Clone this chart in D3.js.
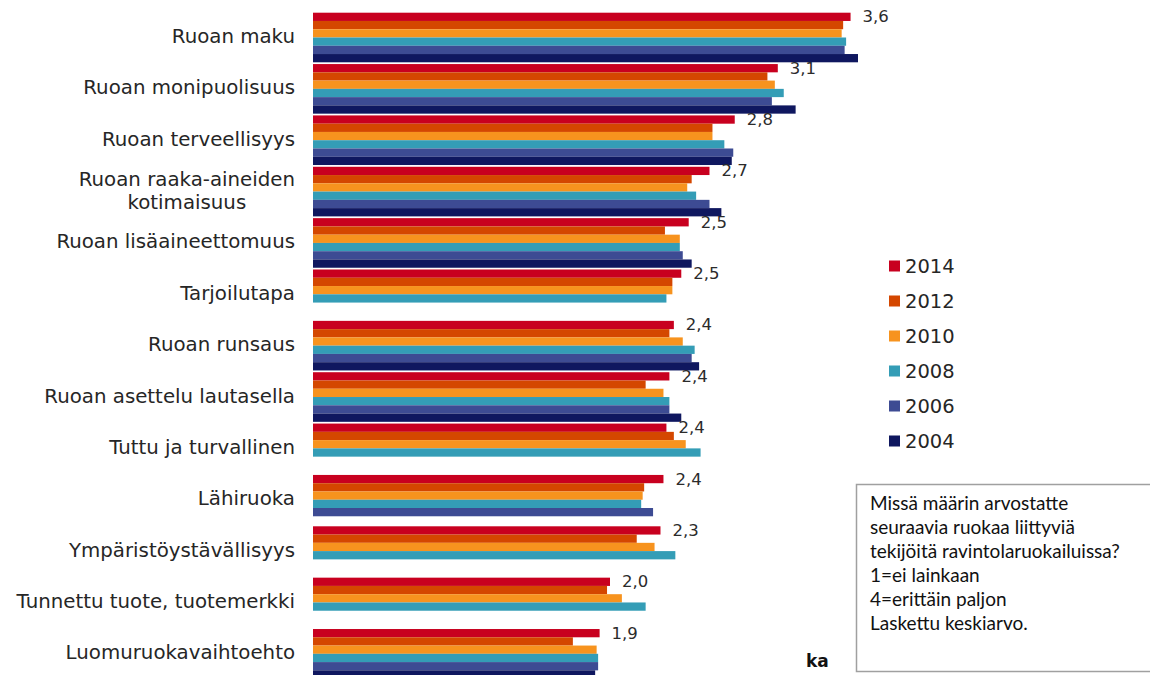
<!DOCTYPE html>
<html>
<head>
<meta charset="utf-8">
<script src="https://cdn.jsdelivr.net/npm/d3@7"></script>
<style>
  html, body { margin: 0; padding: 0; background: #fff; }
  svg { display: block; }
</style>
</head>
<body>
<svg id="chart" width="1150" height="675"></svg>
<script>
// Categories, top to bottom
const categories = [
  "Ruoan maku",
  "Ruoan monipuolisuus",
  "Ruoan terveellisyys",
  "Ruoan raaka-aineiden kotimaisuus",
  "Ruoan lisäaineettomuus",
  "Tarjoilutapa",
  "Ruoan runsaus",
  "Ruoan asettelu lautasella",
  "Tuttu ja turvallinen",
  "Lähiruoka",
  "Ympäristöystävällisyys",
  "Tunnettu tuote, tuotemerkki",
  "Luomuruokavaihtoehto"
];

// Wrapped display lines for long category names
const categoryLines = {
  "Ruoan raaka-aineiden kotimaisuus": ["Ruoan raaka-aineiden", "kotimaisuus"]
};

// Survey years, drawn top to bottom within each category
const years = ["2014", "2012", "2010", "2008", "2006", "2004"];

// Mean scores (1 = ei lainkaan, 4 = erittäin paljon); null = not asked that year
const values2014 = [3.62, 3.13, 2.84, 2.67, 2.53, 2.48, 2.43, 2.40, 2.38, 2.36, 2.34, 2.00, 1.93];
const values2012 = [3.57, 3.06, 2.69, 2.55, 2.37, 2.42, 2.40, 2.24, 2.43, 2.23, 2.18, 1.98, 1.75];
const values2010 = [3.56, 3.11, 2.69, 2.52, 2.47, 2.42, 2.49, 2.36, 2.51, 2.22, 2.30, 2.08, 1.91];
const values2008 = [3.59, 3.17, 2.77, 2.58, 2.47, 2.38, 2.57, 2.40, 2.61, 2.21, 2.44, 2.24, 1.92];
const values2006 = [3.58, 3.09, 2.83, 2.67, 2.49, null, 2.55, 2.40, null, 2.29, null, null, 1.92];
const values2004 = [3.67, 3.25, 2.82, 2.75, 2.55, null, 2.60, 2.48, null, null, null, null, 1.90];

const seriesValues = [values2014, values2012, values2010, values2008, values2006, values2004];

const colors = ["#c8001f", "#d44700", "#f7931e", "#349db6", "#3d4b93", "#0f175f"];

// Legend and note texts
const legendLabels = years;
const noteLines = [
  "Missä määrin arvostatte",
  "seuraavia ruokaa liittyviä",
  "tekijöitä ravintolaruokailuissa?",
  "1=ei lainkaan",
  "4=erittäin paljon",
  "Laskettu keskiarvo."
];
const axisTitle = "ka";

// ---- layout ----
const svg = d3.select("#chart");
const x0 = 313;
const pxPerUnit = 148.5;

const x = d3.scaleLinear().domain([0, 4]).range([x0, x0 + 4 * pxPerUnit]);

const step = 51.36;
const gap = 1.76;
const yStart = 12.7 - gap / 2;
const y = d3.scaleBand()
  .domain(categories)
  .range([yStart, yStart + step * categories.length])
  .paddingInner(gap / step)
  .paddingOuter(gap / step / 2);

const yInner = d3.scaleBand().domain(years).range([0, y.bandwidth()]);
const color = d3.scaleOrdinal().domain(years).range(colors);

const locale = d3.formatLocale({ decimal: ",", thousands: " ", grouping: [3], currency: ["", "€"] });
const fmt = locale.format(".1f");

// flatten rows for bars
const rows = [];
categories.forEach((c, i) => {
  years.forEach((yr, j) => {
    const v = seriesValues[j][i];
    if (v != null) rows.push({ category: c, year: yr, value: v });
  });
});

svg.append("g").attr("class", "bars")
  .selectAll("rect")
  .data(rows)
  .join("rect")
  .attr("x", x(0))
  .attr("y", d => y(d.category) + yInner(d.year))
  .attr("width", d => x(d.value) - x(0))
  .attr("height", yInner.bandwidth())
  .attr("fill", d => color(d.year));

// value labels for the latest year
svg.append("g").attr("class", "value-labels")
  .selectAll("text")
  .data(categories.map((c, i) => ({ category: c, value: values2014[i] })))
  .join("text")
  .attr("x", d => x(d.value) + 12)
  .attr("y", d => y(d.category) + yInner("2014") + yInner.bandwidth() / 2 + 1)
  .attr("dominant-baseline", "middle")
  .attr("font-family", "DejaVu Sans, Verdana, sans-serif")
  .attr("font-size", 16.5)
  .attr("fill", "#2b2b2b")
  .text(d => fmt(d.value));

// category axis labels
const labelRight = 295;
const catG = svg.append("g").attr("class", "category-labels")
  .attr("font-family", "DejaVu Sans, Verdana, sans-serif")
  .attr("font-size", 19.8)
  .attr("fill", "#262626");

categories.forEach(c => {
  const cy = y(c) + y.bandwidth() / 2;
  const lines = categoryLines[c] || [c];
  if (lines.length === 1) {
    catG.append("text")
      .attr("x", labelRight)
      .attr("y", cy)
      .attr("text-anchor", "end")
      .attr("dominant-baseline", "middle")
      .text(c);
  } else {
    const lineH = 23;
    const texts = lines.map((t, k) => catG.append("text")
      .attr("y", cy + (k - (lines.length - 1) / 2) * lineH)
      .attr("dominant-baseline", "middle")
      .attr("text-anchor", "middle")
      .text(t));
    const widest = d3.max(texts, t => t.node().getComputedTextLength());
    texts.forEach(t => t.attr("x", labelRight - widest / 2));
  }
});

// legend
const legend = svg.append("g").attr("class", "legend")
  .attr("font-family", "DejaVu Sans, Verdana, sans-serif")
  .attr("font-size", 19.5)
  .attr("fill", "#262626");
legendLabels.forEach((yr, i) => {
  const cy = 266 + i * 35;
  legend.append("rect")
    .attr("x", 889).attr("y", cy - 5.5)
    .attr("width", 11).attr("height", 11)
    .attr("fill", color(yr));
  legend.append("text")
    .attr("x", 905).attr("y", cy + 1)
    .attr("dominant-baseline", "middle")
    .text(yr);
});

// note box
const note = svg.append("g").attr("class", "note");
note.append("rect")
  .attr("x", 856.5).attr("y", 484.5)
  .attr("width", 320).attr("height", 187)
  .attr("fill", "#fff")
  .attr("stroke", "#a0a0a0")
  .attr("stroke-width", 1.5);
note.selectAll("text")
  .data(noteLines)
  .join("text")
  .attr("x", 870)
  .attr("y", (d, i) => 505 + i * 24)
  .attr("dominant-baseline", "middle")
  .attr("font-family", "Lato, 'Open Sans', sans-serif")
  .attr("font-size", 19)
  .attr("fill", "#111")
  .text(d => d);

// value axis title
svg.append("text")
  .attr("x", 806).attr("y", 662)
  .attr("dominant-baseline", "middle")
  .attr("font-family", "DejaVu Sans, Verdana, sans-serif")
  .attr("font-weight", "bold")
  .attr("font-size", 17)
  .attr("fill", "#111")
  .text(axisTitle);
</script>
</body>
</html>
